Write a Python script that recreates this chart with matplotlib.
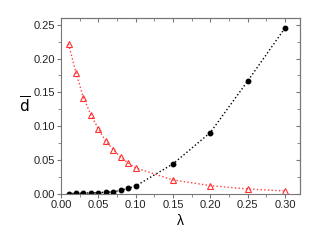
import matplotlib
matplotlib.use("Agg")
import matplotlib.pyplot as plt
from matplotlib.ticker import MultipleLocator, FormatStrFormatter

lam = [0.01, 0.02, 0.03, 0.04, 0.05, 0.06, 0.07, 0.08, 0.09, 0.10, 0.15, 0.20, 0.25, 0.30]
black_vals = [0.0005, 0.0008, 0.0012, 0.0016, 0.0020, 0.0025, 0.0032, 0.0054, 0.0084, 0.0118, 0.0444, 0.0907, 0.1667, 0.245]
red_vals = [0.2215, 0.179, 0.142, 0.117, 0.096, 0.078, 0.0656, 0.054, 0.046, 0.0385, 0.0207, 0.0123, 0.0074, 0.0044]

plt.rcParams['font.family'] = ['Liberation Sans', 'DejaVu Sans']

fig = plt.figure(figsize=(3.18, 2.49), dpi=100)
ax = fig.add_axes([0.192, 0.221, 0.751, 0.707])

ax.plot(lam, black_vals, linestyle=':', color='black', linewidth=1.0,
        marker='o', markersize=3.2, markerfacecolor='black', markeredgecolor='black')
ax.plot(lam, red_vals, linestyle=':', color='#ff4040', linewidth=1.0,
        marker='^', markersize=4.2, markerfacecolor='none', markeredgecolor='#ff3030', markeredgewidth=0.8)

ax.set_xlim(0, 0.32)
ax.set_ylim(0, 0.26)
ax.xaxis.set_major_locator(MultipleLocator(0.05))
ax.yaxis.set_major_locator(MultipleLocator(0.05))
ax.xaxis.set_minor_locator(MultipleLocator(0.025))
ax.yaxis.set_minor_locator(MultipleLocator(0.025))
ax.xaxis.set_major_formatter(FormatStrFormatter('%.2f'))
ax.yaxis.set_major_formatter(FormatStrFormatter('%.2f'))

for s in ax.spines.values():
    s.set_color('#777777')
    s.set_linewidth(0.8)

ax.tick_params(axis='both', which='major', direction='out', length=3, width=0.8,
               color='#777777', labelsize=8, labelcolor='#222222', pad=1.5)
ax.tick_params(axis='both', which='minor', direction='out', length=2, width=0.6, color='#777777')

# inward ticks on top and right via secondary axes
secx = ax.secondary_xaxis('top')
secx.xaxis.set_major_locator(MultipleLocator(0.05))
secx.xaxis.set_minor_locator(MultipleLocator(0.025))
secx.tick_params(axis='x', which='major', direction='in', length=3, width=0.8, color='#777777', labeltop=False)
secx.tick_params(axis='x', which='minor', direction='in', length=2, width=0.6, color='#777777')
secx.spines['top'].set_color('#777777')
secx.spines['top'].set_linewidth(0.8)

secy = ax.secondary_yaxis('right')
secy.yaxis.set_major_locator(MultipleLocator(0.05))
secy.yaxis.set_minor_locator(MultipleLocator(0.025))
secy.tick_params(axis='y', which='major', direction='in', length=3, width=0.8, color='#777777', labelright=False)
secy.tick_params(axis='y', which='minor', direction='in', length=2, width=0.6, color='#777777')
secy.spines['right'].set_color('#777777')
secy.spines['right'].set_linewidth(0.8)

ax.set_xlabel('λ', fontsize=10, labelpad=3)
ax.set_ylabel(r'$\overline{\mathrm{d}}$', fontsize=11, labelpad=6, rotation=0, va='center')

fig.savefig('out.png', dpi=100)
